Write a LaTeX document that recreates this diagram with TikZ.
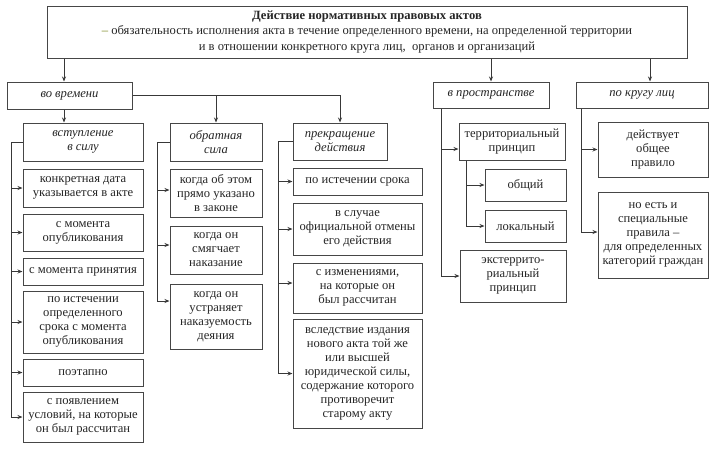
\documentclass[tikz,border=0pt]{standalone}
\usepackage{fontspec}
\setmainfont{Liberation Serif}
\usetikzlibrary{arrows.meta}
\definecolor{boxline}{RGB}{70,70,70}
\definecolor{dashcol}{RGB}{120,135,30}
\newcommand\bodyfont{\fontsize{12.6}{14}\selectfont}
\newcommand\topfont{\fontsize{12.6}{15.5}\selectfont}
\newcommand\mkbox[6]{\node[box, minimum width={#4-#2}, minimum height={#5-#3}] (#1) at ({(#2+#4)/2},{(#3+#5)/2}) {#6};}
\tikzset{
  box/.style={draw=boxline, line width=1pt, fill=white, align=center, inner sep=0pt, font=\bodyfont, text=black!85},
  ln/.style={draw=boxline!80!black, line width=0.8pt},
  arr/.style={ln, -{Stealth[length=5pt,width=4pt]}}
}
\begin{document}
\begin{tikzpicture}[x=1pt,y=-1pt]
\useasboundingbox (0,0) rectangle (717,451);
% top
\node[box, font=\topfont, minimum width=640, minimum height=52] (top) at (367,32) {\textbf{Действие нормативных правовых актов}\\{\color{dashcol}–} обязательность исполнения акта в течение определенного времени, на определенной территории\\и в отношении конкретного круга лиц,\ \ органов и организаций};
% level 1
\mkbox{vv}{7}{82}{132}{109}{\itshape во времени}
\mkbox{vp}{433}{82}{549}{108}{\itshape в пространстве}
\mkbox{pk}{576}{82}{708}{108}{\itshape по кругу лиц}
% level 2
\mkbox{vs}{23}{123}{143}{161}{\itshape вступление\\\itshape в силу}
\mkbox{os}{170}{123}{262}{161}{\itshape обратная\\\itshape сила}
\mkbox{pd}{293}{123}{387}{160}{\itshape прекращение\\\itshape действия}
% left column
\mkbox{a1}{23}{169}{143}{207}{конкретная дата\\указывается в акте}
\mkbox{a2}{23}{214}{143}{251}{с момента\\опубликования}
\mkbox{a3}{23}{258}{143}{285}{с момента принятия}
\mkbox{a4}{23}{291}{143}{353}{по истечении\\определенного\\срока с момента\\опубликования}
\mkbox{a5}{23}{359}{143}{386}{поэтапно}
\mkbox{a6}{23}{392}{143}{442}{с появлением\\условий, на которые\\он был рассчитан}
% middle column
\mkbox{b1}{170}{169}{262}{217}{когда об этом\\прямо указано\\в законе}
\mkbox{b2}{170}{226}{262}{274}{когда он\\смягчает\\наказание}
\mkbox{b3}{170}{284}{262}{349}{когда он\\устраняет\\наказуемость\\деяния}
% third column
\mkbox{c1}{293}{168}{422}{195}{по истечении срока}
\mkbox{c2}{293}{203}{422}{255}{в случае\\официальной отмены\\его действия}
\mkbox{c3}{293}{263}{422}{313}{с изменениями,\\на которые он\\был рассчитан}
\mkbox{c4}{293}{319}{422}{428}{вследствие издания\\нового акта той же\\или высшей\\юридической силы,\\содержание которого\\противоречит\\старому акту}
% space
\mkbox{t1}{459}{123}{565}{160}{территориальный\\принцип}
\mkbox{t2}{485}{169}{566}{201}{общий}
\mkbox{t3}{485}{210}{566}{242}{локальный}
\mkbox{t4}{460}{250}{566}{302}{экстеррито-\\риальный\\принцип}
% persons
\mkbox{p1}{598}{122}{708}{177}{действует\\общее\\правило}
\mkbox{p2}{598}{192}{708}{278}{но есть и\\специальные\\правила –\\для определенных\\категорий граждан}
% x coordinates
\coordinate (xA) at (64,0);
\coordinate (xC) at (650,0);
\coordinate (xL) at (11,0);
\coordinate (xM) at (157,0);
\coordinate (xR) at (278,0);
\coordinate (xS) at (441,0);
\coordinate (xT) at (466,0);
\coordinate (xP) at (581,0);
% connectors from top
\draw[arr] (top.south -| xA) -- (vv.north -| xA);
\draw[arr] (top.south -| vp.north) -- (vp.north);
\draw[arr] (top.south -| xC) -- (pk.north -| xC);
% from vv
\draw[arr] (vv.south -| xA) -- (vs.north -| xA);
\draw[arr] (vv.east) -| (pd.north);
\draw[arr] (vv.east -| os.north) -- (os.north);
% left trunk
\draw[ln] (vs.west) -- (vs.west -| xL) -- (a6.west -| xL);
\foreach \n in {a1,a2,a3,a4,a5,a6} \draw[arr] (\n.west -| xL) -- (\n.west);
% middle trunk
\draw[ln] (os.west) -- (os.west -| xM) -- ([yshift=15.5pt]b3.west -| xM);
\draw[arr] ([yshift=3pt]b1.west -| xM) -- ([yshift=3pt]b1.west);
\draw[arr] ([yshift=5pt]b2.west -| xM) -- ([yshift=5pt]b2.west);
\draw[arr] ([yshift=15.5pt]b3.west -| xM) -- ([yshift=15.5pt]b3.west);
% third trunk
\draw[ln] (pd.west) -- (pd.west -| xR) -- (c4.west -| xR);
\draw[arr] (c1.west -| xR) -- (c1.west);
\draw[arr] (c2.west -| xR) -- (c2.west);
\draw[arr] ([yshift=5pt]c3.west -| xR) -- ([yshift=5pt]c3.west);
\draw[arr] (c4.west -| xR) -- (c4.west);
% space trunk
\draw[ln] (vp.south -| xS) -- (t4.west -| xS);
\draw[arr] ([yshift=-7.5pt]t1.west -| xS) -- ([yshift=-7.5pt]t1.west);
\draw[arr] (t4.west -| xS) -- (t4.west);
\draw[ln] (t1.south -| xT) -- (t3.west -| xT);
\draw[arr] (t2.west -| xT) -- (t2.west);
\draw[arr] (t3.west -| xT) -- (t3.west);
% persons trunk
\draw[ln] (pk.south -| xP) -- ([yshift=3pt]p2.west -| xP);
\draw[arr] (p1.west -| xP) -- (p1.west);
\draw[arr] ([yshift=3pt]p2.west -| xP) -- ([yshift=3pt]p2.west);
\end{tikzpicture}
\end{document}
